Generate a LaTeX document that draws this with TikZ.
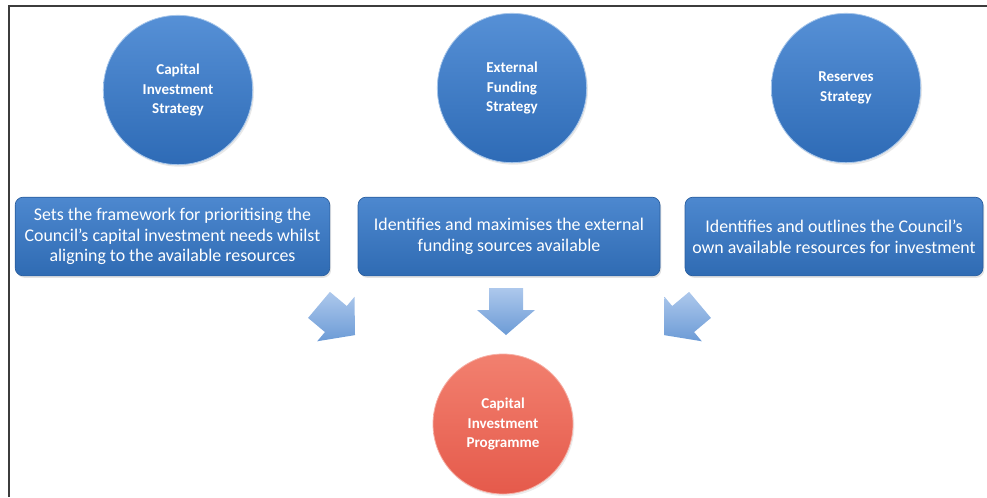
\documentclass[tikz,border=0pt]{standalone}
\usepackage{fontspec}
\setmainfont{Carlito}
\usetikzlibrary{shadows}
\definecolor{frameC}{HTML}{3C3C3C}
\definecolor{blueTop}{HTML}{5690D6}
\definecolor{blueBot}{HTML}{2E6BB6}
\definecolor{blueRim}{HTML}{A7C6EA}
\definecolor{boxTop}{HTML}{4D88CF}
\definecolor{boxBot}{HTML}{2F6BB3}
\definecolor{boxLine}{HTML}{2A5E9E}
\definecolor{redTop}{HTML}{F2806F}
\definecolor{redBot}{HTML}{E55A4B}
\definecolor{redRim}{HTML}{F6B0A6}
\definecolor{arrTop}{HTML}{ADC8EC}
\definecolor{arrBot}{HTML}{6C9BD6}
\tikzset{
  strat/.style={circle, minimum size=112pt, inner sep=0pt, align=center,
    text=white, font=\bfseries\fontsize{11.3}{14.5}\selectfont,
    top color=blueTop, bottom color=blueBot, draw=blueRim, line width=0.6pt,
    drop shadow={opacity=0.18, shadow xshift=1pt, shadow yshift=-1.5pt}},
  desc/.style={rectangle, rounded corners=6pt, inner sep=1pt, align=center,
    minimum height=59pt, text=white, font=\fontsize{13.4}{15.6}\selectfont,
    top color=boxTop, bottom color=boxBot, draw=boxLine, line width=0.5pt,
    drop shadow={opacity=0.22, shadow xshift=1pt, shadow yshift=-1.5pt}},
  prog/.style={circle, minimum size=105pt, inner sep=0pt, align=center,
    text=white, font=\bfseries\fontsize{11.3}{14.5}\selectfont,
    top color=redTop, bottom color=redBot, draw=redRim, line width=0.6pt,
    drop shadow={opacity=0.15, shadow xshift=1pt, shadow yshift=-1.5pt}},
  blockarrow/.style={top color=arrTop, bottom color=arrBot, draw=none}
}
\begin{document}
\begin{tikzpicture}[x=0.75pt,y=0.75pt]
\useasboundingbox (0,0) rectangle (987,-497);
\draw[frameC, line width=1.3pt] (9,-497) -- (9,-6) -- (987,-6);

% strategy circles
\node[strat] (c1) at (178,-90) {Capital\\Investment\\Strategy};
\node[strat] (c2) at (512,-88) {External\\Funding\\Strategy};
\node[strat] (c3) at (846,-88) {Reserves\\Strategy};

% description boxes
\node[desc, minimum width=236pt] (b1) at (172.5,-236.5)
  {Sets the framework for prioritising the\\Council’s capital investment needs whilst\\aligning to the available resources};
\node[desc, minimum width=226.5pt] (b2) at (509,-236.5)
  {Identifies and maximises the external\\funding sources available};
\node[desc, minimum width=223.5pt] (b3) at (834,-236.5)
  {Identifies and outlines the Council’s\\own available resources for investment};

% programme circle
\node[prog] (p) at (503,-424) {Capital\\Investment\\Programme};

% block arrows
\begin{scope}[shift={(337,-320)}, rotate=50]
  \path[blockarrow] (-17,23.5) -- (17,23.5) -- (17,1.5) -- (29,1.5) -- (0,-23.5) -- (-29,1.5) -- (-17,1.5) -- cycle;
\end{scope}
\begin{scope}[shift={(506,-311.5)}]
  \path[blockarrow] (-17,23.5) -- (17,23.5) -- (17,1.5) -- (29,1.5) -- (0,-23.5) -- (-29,1.5) -- (-17,1.5) -- cycle;
\end{scope}
\begin{scope}[shift={(682,-320)}, rotate=-50]
  \path[blockarrow] (-17,23.5) -- (17,23.5) -- (17,1.5) -- (29,1.5) -- (0,-23.5) -- (-29,1.5) -- (-17,1.5) -- cycle;
\end{scope}
\end{tikzpicture}
\end{document}
